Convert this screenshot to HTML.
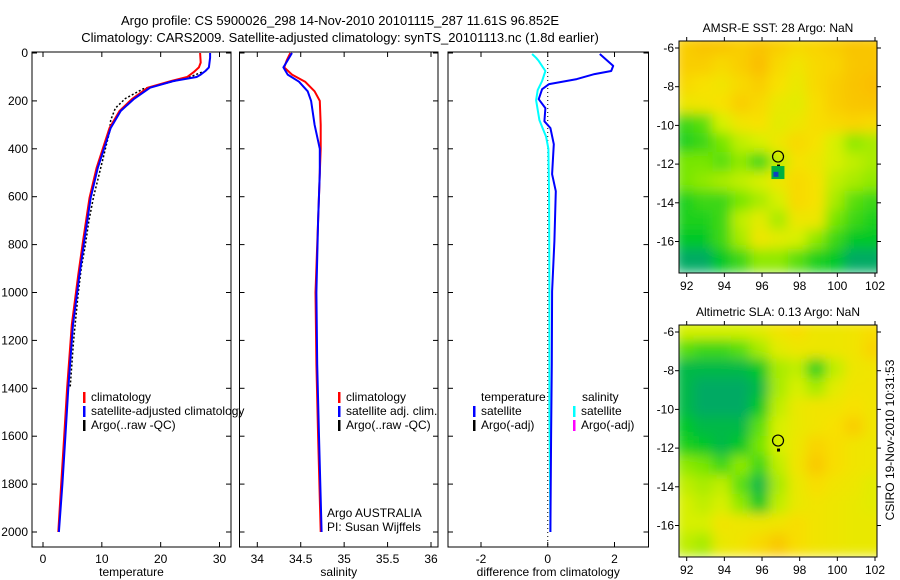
<!DOCTYPE html>
<html><head><meta charset="utf-8"><style>
html,body{margin:0;padding:0;background:#fff;width:900px;height:580px;overflow:hidden}
svg{display:block;font-family:"Liberation Sans",sans-serif}
text{font-size:12px;fill:#000}
</style></head><body>
<svg id="fig" width="900" height="580" viewBox="0 0 900 580">
<text x="340" y="25" text-anchor="middle" style="font-size:13px">Argo profile: CS 5900026_298 14-Nov-2010 20101115_287 11.61S 96.852E</text>
<text x="340" y="42" text-anchor="middle" style="font-size:13px">Climatology: CARS2009. Satellite-adjusted climatology: synTS_20101113.nc (1.8d earlier)</text>
<g id="p1"></g>
<g id="p2"></g>
<g id="p3"></g>
<g id="m1"></g>
<g id="m2"></g>
<text transform="translate(894,440) rotate(-90)" text-anchor="middle">CSIRO 19-Nov-2010 10:31:53</text>
</svg>
<script>
// ---- data ----
const depthTicks=[0,200,400,600,800,1000,1200,1400,1600,1800,2000];
const tempTicks=[0,10,20,30];
const salTicks=[34,34.5,35,35.5,36];
const diffTicks=[-2,0,2];
const tSatDepth=[0,20,60,75,90,100,117,145,193,242,313,397,481,605,786,925,1134,1400,1600,1800,2000];
const tSatVal=[28.4,28.4,28.2,27.6,26.8,26.1,22.2,18.2,15.4,13.2,11.5,10.4,9.3,8.1,7.0,6.2,5.1,4.3,3.8,3.3,2.7];
const tClimDepth=[0,40,60,80,100,117,145,193,242,313,397,481,605,786,925,1134,1400,1600,1800,2000];
const tClimVal=[26.7,26.8,26.5,25.6,24.5,21.8,17.8,15.1,13.0,11.3,10.2,9.1,7.9,6.8,6.0,4.9,4.1,3.6,3.1,2.6];
const tArgoDepth=[80,100,120,150,190,230,280,330,400,480,600,700,800,900,1000,1200,1400];
const tArgoVal=[27.0,25.0,22.0,17.0,14.0,12.3,11.5,11.3,10.6,9.8,8.6,7.8,7.2,6.5,6.0,5.2,4.6];
const sSatDepth=[0,30,60,90,120,160,200,300,400,500,700,1000,1300,1600,2000];
const sSatVal=[34.4,34.35,34.3,34.35,34.48,34.58,34.62,34.66,34.72,34.72,34.7,34.68,34.69,34.71,34.74];
const sClimDepth=[0,30,60,90,120,160,200,300,400,500,700,1000,1300,1600,2000];
const sClimVal=[34.38,34.34,34.31,34.4,34.55,34.66,34.72,34.73,34.73,34.72,34.7,34.67,34.68,34.7,34.73];
const dTDepth=[4,54,75,88,109,130,151,193,230,285,313,381,506,577,786,995,1300,1600,2000];
const dTVal=[1.56,1.96,1.9,1.4,0.87,0.04,-0.17,-0.27,-0.07,-0.1,0.08,0.18,0.13,0.24,0.2,0.13,0.12,0.1,0.08];
const dSDepth=[4,20,33,75,117,155,197,280,350,400,600,1000,1500,2000];
const dSVal=[-0.47,-0.35,-0.27,-0.07,-0.17,-0.3,-0.35,-0.25,-0.05,0.02,0.04,0.05,0.05,0.08];
const mapLons=[92,93,94,95,96,97,98,99,100,101,102];
const mapLats=[-6,-7,-8,-9,-10,-11,-12,-13,-14,-15,-16,-17];
const mapLonTicks=[92,94,96,98,100,102];
const mapLatTicks=[-6,-8,-10,-12,-14,-16];
const sstGrid=[
[.82,.86,.85,.82,.86,.82,.78,.8,.82,.86,.85],
[.82,.82,.78,.82,.88,.78,.72,.78,.8,.85,.86],
[.78,.75,.72,.78,.82,.75,.68,.78,.82,.86,.88],
[.7,.72,.75,.82,.78,.68,.65,.76,.82,.85,.86],
[.3,.35,.6,.72,.75,.65,.7,.76,.78,.8,.78],
[.25,.3,.4,.55,.6,.7,.78,.74,.6,.45,.5],
[.4,.4,.35,.45,.3,.55,.74,.7,.6,.55,.5],
[.4,.45,.5,.55,.6,.7,.78,.74,.55,.5,.45],
[.25,.3,.3,.4,.5,.6,.78,.74,.5,.35,.3],
[.25,.25,.3,.55,.65,.5,.7,.7,.4,.3,.25],
[.2,.2,.3,.5,.7,.65,.6,.45,.3,.2,.2],
[.1,.1,.2,.3,.45,.45,.35,.25,.2,.1,.1]];
const slaGrid=[
[.6,.6,.6,.6,.65,.72,.76,.7,.7,.72,.76],
[.35,.3,.3,.35,.5,.65,.7,.7,.7,.72,.8],
[.15,.15,.15,.15,.2,.5,.55,.25,.55,.7,.72],
[.15,.1,.1,.1,.15,.5,.6,.5,.65,.72,.72],
[.15,.1,.1,.1,.2,.55,.68,.72,.72,.75,.72],
[.2,.15,.15,.15,.35,.6,.68,.72,.75,.82,.72],
[.25,.2,.15,.2,.4,.6,.7,.8,.76,.72,.7],
[.45,.4,.3,.45,.3,.55,.72,.84,.76,.72,.7],
[.55,.5,.55,.35,.15,.5,.68,.76,.72,.7,.65],
[.6,.55,.6,.45,.2,.55,.68,.72,.7,.68,.65],
[.6,.6,.72,.7,.7,.72,.76,.72,.7,.68,.68],
[.55,.5,.68,.72,.78,.84,.76,.72,.7,.68,.68]];
const floatLon=96.85, floatLat=-11.61;

const NS='http://www.w3.org/2000/svg';
function mk(parent,tag,attrs,txt){const e=document.createElementNS(NS,tag);for(const k in attrs)e.setAttribute(k,attrs[k]);if(txt!==undefined)e.textContent=txt;parent.appendChild(e);return e;}
const yD=d=>53+d*0.2395;
function lin(d0,p0,d1,p1){return v=>p0+(v-d0)*(p1-p0)/(d1-d0);}

function panel(g,x0,x1,xs,ticks,fmt,xlabel,showDepth){
  const r=mk(g,'rect',{x:x0,y:52,width:x1-x0,height:495,fill:'none',stroke:'#000','stroke-width':1});
  
  
  ticks.forEach(t=>{const x=xs(t);
    mk(g,'line',{x1:x,y1:547,x2:x,y2:542,stroke:'#000'});
    mk(g,'line',{x1:x,y1:52,x2:x,y2:57,stroke:'#000'});
    const tx=mk(g,'text',{x:x,y:563,'text-anchor':'middle'},fmt(t));
    
    });
  const xl=mk(g,'text',{x:(x0+x1)/2,y:576,'text-anchor':'middle'},xlabel);
  
  
  depthTicks.forEach(d=>{const y=yD(d);
    mk(g,'line',{x1:x0,y1:y,x2:x0+5,y2:y,stroke:'#000'});
    mk(g,'line',{x1:x1,y1:y,x2:x1-5,y2:y,stroke:'#000'});
    if(showDepth){const t=mk(g,'text',{x:x0-4,y:y+4,'text-anchor':'end'},d);
      
      }});
}
function line(g,xs,ds,vs,color,w,name,dash){
  const pts=ds.map((d,i)=>xs(vs[i]).toFixed(1)+','+yD(d).toFixed(1)).join(' ');
  const a={points:pts,fill:'none',stroke:color,'stroke-width':w,'stroke-linejoin':'round'};
  if(dash)a['stroke-dasharray']=dash;
  const p=mk(g,'polyline',a);
  
  
}
function legend(g,x,y,items){
  items.forEach((it,i)=>{
    mk(g,'rect',{x:x,y:y+i*14-9,width:2.5,height:11,fill:it[1]});
    const t=mk(g,'text',{x:x+8,y:y+i*14},it[0]);
    
    
  });
}
// panel 1
const p1=document.getElementById('p1');
const xT=lin(0,43,30,219.5);
panel(p1,32,231,xT,tempTicks,v=>v,'temperature',true);
line(p1,xT,tArgoDepth,tArgoVal,'#000',1.5,'argo-temperature-line','2 2');
line(p1,xT,tClimDepth,tClimVal,'#f00',2,'climatology-temperature-line');
line(p1,xT,tSatDepth,tSatVal,'#00f',2,'satellite-temperature-line');
mk(p1,'rect',{x:232,y:395,width:6,height:40,fill:'#fff'});
legend(p1,83,401,[['climatology','#f00'],['satellite-adjusted climatology','#00f'],['Argo(..raw -QC)','#000']]);
// panel 2
const p2=document.getElementById('p2');
const xS=lin(34,257.3,36,431);
panel(p2,239.5,438,xS,salTicks,v=>v,'salinity',false);
line(p2,xS,sClimDepth,sClimVal,'#f00',2,'climatology-salinity-line');
line(p2,xS,sSatDepth,sSatVal,'#00f',2,'satellite-salinity-line');
legend(p2,338,401,[['climatology','#f00'],['satellite adj. clim.','#00f'],['Argo(..raw -QC)','#000']]);
const a1=mk(p2,'text',{x:327,y:517},'Argo AUSTRALIA');
const a2=mk(p2,'text',{x:327,y:531},'PI: Susan Wijffels');
// panel 3
const p3=document.getElementById('p3');
const xDf=lin(-2,481,2,614.5);
panel(p3,448,648.5,xDf,diffTicks,v=>v,'difference from climatology',false);
mk(p3,'line',{x1:xDf(0),y1:52,x2:xDf(0),y2:547,stroke:'#000','stroke-dasharray':'1 3'});
line(p3,xDf,dSDepth,dSVal,'#0ff',2,'salinity-difference-line');
line(p3,xDf,dTDepth,dTVal,'#00f',2,'temperature-difference-line');
const lt=mk(p3,'text',{x:481,y:401},'temperature');
const ls=mk(p3,'text',{x:582,y:401},'salinity');
legend(p3,473,415,[['satellite','#00f'],['Argo(-adj)','#000']]);
legend(p3,573,415,[['satellite','#0ff'],['Argo(-adj)','#f0f']]);
// maps
function col(v){
  const st=[[0.1,[0,170,100]],[0.2,[0,200,40]],[0.4,[120,230,0]],[0.6,[215,240,0]],[0.75,[248,225,0]],[0.9,[250,185,0]]];
  if(v<=st[0][0])return 'rgb('+st[0][1]+')';
  for(let i=1;i<st.length;i++){if(v<=st[i][0]){const f=(v-st[i-1][0])/(st[i][0]-st[i-1][0]);
    const c=st[i-1][1].map((a,k)=>Math.round(a+(st[i][1][k]-a)*f));return 'rgb('+c+')';}}
  return 'rgb('+st[st.length-1][1]+')';
}
function map(id,top,title,grid){
  const g=document.getElementById(id);
  const x0=679,x1=877,y1=top+232;
  const xL=lin(92,686.7,102,875), yL=lin(-6,top+7,-16,top+200.5);
  const cid='clip'+id;
  const cp=mk(g,'clipPath',{id:cid});mk(cp,'rect',{x:x0,y:top,width:x1-x0,height:232});
  const hg=mk(g,'g',{'clip-path':'url(#'+cid+')'});
  const cells=mk(hg,'g',{filter:'url(#blur)'});
  grid.forEach((row,r)=>row.forEach((v,c)=>{
    const cx=xL(mapLons[c]), cy=yL(mapLats[r]);
    const cell=mk(cells,'rect',{x:cx-12,y:cy-12,width:24,height:24,fill:col(v)});
    
    
  }));
  mk(g,'rect',{x:x0,y:top,width:x1-x0,height:232,fill:'none',stroke:'#000'});
  mapLonTicks.forEach(l=>{const x=xL(l);mk(g,'line',{x1:x,y1:y1,x2:x,y2:y1+4,stroke:'#000'});mk(g,'line',{x1:x,y1:top,x2:x,y2:top-4,stroke:'#000'});
    const t=mk(g,'text',{x:x,y:y1+17,'text-anchor':'middle'},l);});
  mapLatTicks.forEach(l=>{const y=yL(l);mk(g,'line',{x1:x0,y1:y,x2:x0-4,y2:y,stroke:'#000'});mk(g,'line',{x1:x1,y1:y,x2:x1+4,y2:y,stroke:'#000'});
    const t=mk(g,'text',{x:x0-5,y:y+4,'text-anchor':'end'},l);});
  const tt=mk(g,'text',{x:(x0+x1)/2,y:top-9,'text-anchor':'middle'},title);
  
  
  const c=mk(g,'circle',{cx:xL(floatLon),cy:yL(floatLat),r:5.5,fill:'none',stroke:'#000','stroke-width':1.2});
  
  
  mk(g,'rect',{x:xL(floatLon)-1,y:yL(floatLat)+8,width:3,height:3,fill:'#000'});
}
const defs=mk(document.getElementById('fig'),'defs',{});
const f=mk(defs,'filter',{id:'blur',x:'-5%',y:'-5%',width:'110%',height:'110%'});
mk(f,'feGaussianBlur',{stdDeviation:6});
map('m1',41,'AMSR-E SST: 28 Argo: NaN',sstGrid);
map('m2',325,'Altimetric SLA: 0.13 Argo: NaN',slaGrid);
// dark pixels near float in SST map
(function(){const g=document.getElementById('m1');const xL=lin(92,686.7,102,875), yL=lin(-6,48,-16,241.5);
  mk(g,'rect',{x:xL(96.5),y:yL(-12.1),width:13,height:13,fill:'#00b040'});
  mk(g,'rect',{x:xL(96.5)+2,y:yL(-12.4),width:5,height:5,fill:'#1040c0'});})();
</script>
</body></html>
